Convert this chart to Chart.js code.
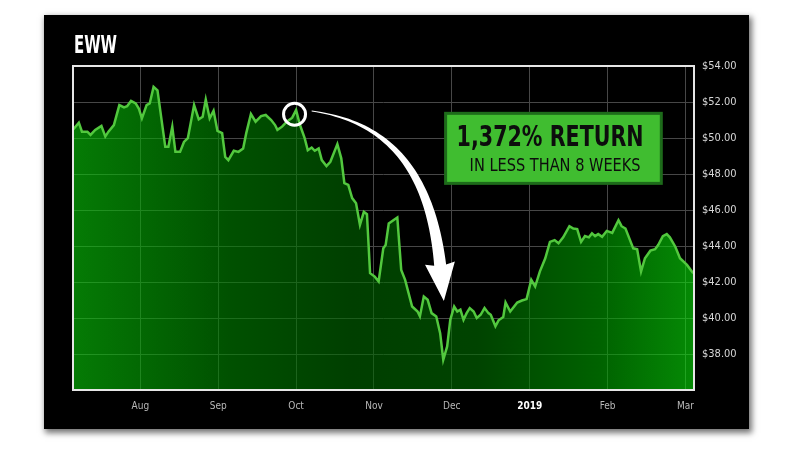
<!DOCTYPE html>
<html>
<head>
<meta charset="utf-8">
<script src="https://cdn.jsdelivr.net/npm/chart.js@4.4.1/dist/chart.umd.min.js"></script>
<style>
  html, body { margin: 0; padding: 0; background: #fff; }
  body { width: 800px; height: 450px; position: relative; overflow: hidden; }
  #panel {
    position: absolute; left: 44px; top: 15px; width: 705px; height: 414px;
    background: #000; box-shadow: 2px 3px 6px 1px rgba(0, 0, 0, 0.55);
  }
  canvas { display: block; }
</style>
</head>
<body>
<div id="panel"><canvas id="chart" width="705" height="414"></canvas></div>
<script>
// --- DATA ---
// position in months (0 = Aug 2018 ... 7 = Mar 2019)
const monthPos = [
  -0.86, -0.79, -0.75, -0.68, -0.64, -0.58, -0.50, -0.45, -0.41, -0.34,
  -0.27, -0.21, -0.17, -0.12, -0.06, -0.02, 0.02, 0.08, 0.12, 0.17,
  0.22, 0.32, 0.36, 0.41, 0.45, 0.51, 0.56, 0.61, 0.69, 0.75,
  0.80, 0.84, 0.89, 0.94, 0.99, 1.05, 1.09, 1.13, 1.20, 1.26,
  1.32, 1.36, 1.42, 1.48, 1.55, 1.61, 1.68, 1.73, 1.76, 1.82,
  1.88, 1.95, 2.00, 2.05, 2.11, 2.15, 2.20, 2.24, 2.29, 2.33,
  2.39, 2.44, 2.53, 2.58, 2.62, 2.67, 2.72, 2.77, 2.82, 2.87,
  2.91, 2.95, 3.01, 3.06, 3.12, 3.15, 3.19, 3.30, 3.35, 3.40,
  3.49, 3.56, 3.59, 3.64, 3.69, 3.74, 3.80, 3.85, 3.89, 3.94,
  3.98, 4.03, 4.07, 4.11, 4.15, 4.19, 4.23, 4.28, 4.32, 4.37,
  4.42, 4.47, 4.50, 4.56, 4.60, 4.66, 4.69, 4.75, 4.84, 4.90,
  4.96, 5.02, 5.07, 5.13, 5.20, 5.26, 5.32, 5.37, 5.43, 5.51,
  5.56, 5.61, 5.66, 5.71, 5.76, 5.80, 5.84, 5.88, 5.93, 5.99,
  6.06, 6.14, 6.18, 6.23, 6.33, 6.38, 6.43, 6.48, 6.55, 6.61,
  6.65, 6.71, 6.76, 6.80, 6.87, 6.93, 7.02, 7.10
];
const prices = [
  50.49, 50.85, 50.35, 50.35, 50.17, 50.45, 50.67, 50.08, 50.35, 50.72,
  51.83, 51.70, 51.77, 52.06, 51.92, 51.64, 51.09, 51.83, 51.92, 52.84,
  52.65, 49.51, 49.51, 50.63, 49.23, 49.23, 49.78, 49.99, 51.83, 51.04,
  51.18, 52.14, 51.09, 51.51, 50.39, 50.27, 48.95, 48.77, 49.29, 49.23,
  49.42, 50.27, 51.33, 50.91, 51.22, 51.28, 51.00, 50.72, 50.45, 50.63,
  50.91, 51.13, 51.55, 50.72, 49.99, 49.32, 49.47, 49.29, 49.42, 48.77,
  48.44, 48.68, 49.66, 48.87, 47.49, 47.39, 46.66, 46.38, 45.17, 45.90,
  45.77, 42.49, 42.30, 42.03, 43.87, 44.05, 45.25, 45.58, 42.67, 42.12,
  40.64, 40.36, 40.09, 41.19, 41.01, 40.27, 40.09, 39.16, 37.68, 38.42,
  39.90, 40.64, 40.36, 40.46, 39.90, 40.27, 40.55, 40.36, 40.00, 40.18,
  40.55, 40.27, 40.18, 39.54, 39.87, 40.05, 40.86, 40.36, 40.86, 40.97,
  41.05, 42.12, 41.75, 42.58, 43.32, 44.23, 44.33, 44.15, 44.48, 45.10,
  44.97, 44.94, 44.23, 44.55, 44.48, 44.70, 44.55, 44.66, 44.51, 44.84,
  44.73, 45.43, 45.10, 44.97, 43.87, 43.82, 42.58, 43.32, 43.74, 43.82,
  44.05, 44.55, 44.66, 44.48, 43.96, 43.32, 42.95, 42.49
];
const monthTicks = [0, 1, 2, 3, 4, 5, 6, 7];
const monthLabels = ['Aug', 'Sep', 'Oct', 'Nov', 'Dec', '2019', 'Feb', 'Mar'];
const priceTicks = [38, 40, 42, 44, 46, 48, 50, 52, 54];

const FONT = "'Liberation Sans Narrow', 'Arial Narrow', 'DejaVu Sans Condensed', sans-serif";

// text squeezed to a given width (the original uses a very condensed face)
function fitText(ctx, text, x, y, width) {
    const w = ctx.measureText(text).width;
    ctx.save();
    ctx.translate(x, y);
    ctx.scale(width / w, 1);
    ctx.fillText(text, 0, 0);
    ctx.restore();
}

const overlay = {
    id: 'overlay',
    afterDraw(chart) {
        const ctx = chart.ctx;
        const area = chart.chartArea;
        const xs = chart.scales.x, ys = chart.scales.y;
        const pt = (m, v) => ({ x: xs.getPixelForValue(m), y: ys.getPixelForValue(v) });

        // plot frame
        ctx.save();
        ctx.strokeStyle = '#e6e6e6';
        ctx.lineWidth = 2;
        ctx.strokeRect(area.left, area.top, area.right - area.left, area.bottom - area.top);

        // title
        ctx.fillStyle = '#fff';
        ctx.font = 'bold 24px ' + FONT;
        ctx.textBaseline = 'alphabetic';
        fitText(ctx, 'EWW', area.left + 1, area.top - 13, 43);

        // circle on the October high
        const c = pt(1.98, 51.32);
        ctx.beginPath();
        ctx.arc(c.x, c.y, 11, 0, Math.PI * 2);
        ctx.strokeStyle = '#fff';
        ctx.lineWidth = 3;
        ctx.stroke();

        // curved tapering arrow down to the December low
        const p0 = pt(2.20, 51.5), p1 = pt(3.23, 50.89), p2 = pt(3.73, 47.94), p3 = pt(3.85, 42.94);
        const N = 48;
        const left = [], right = [];
        for (let i = 0; i <= N; i++) {
            const t = i / N, u = 1 - t;
            const x = u*u*u*p0.x + 3*u*u*t*p1.x + 3*u*t*t*p2.x + t*t*t*p3.x;
            const y = u*u*u*p0.y + 3*u*u*t*p1.y + 3*u*t*t*p2.y + t*t*t*p3.y;
            const dx = 3*u*u*(p1.x - p0.x) + 6*u*t*(p2.x - p1.x) + 3*t*t*(p3.x - p2.x);
            const dy = 3*u*u*(p1.y - p0.y) + 6*u*t*(p2.y - p1.y) + 3*t*t*(p3.y - p2.y);
            const len = Math.hypot(dx, dy);
            const nx = -dy / len, ny = dx / len;
            const hw = (0.8 + 11.2 * Math.pow(t, 1.1)) / 2;
            left.push([x + nx*hw, y + ny*hw]);
            right.push([x - nx*hw, y - ny*hw]);
        }
        const dl = Math.hypot(p3.x - p2.x, p3.y - p2.y);
        const dirx = (p3.x - p2.x) / dl, diry = (p3.y - p2.y) / dl;
        const px = -diry, py = dirx;
        ctx.beginPath();
        ctx.moveTo(left[0][0], left[0][1]);
        left.forEach(p => ctx.lineTo(p[0], p[1]));
        ctx.lineTo(p3.x + px*15 - dirx*2, p3.y + py*15 - diry*2);
        ctx.lineTo(p3.x + dirx*36, p3.y + diry*36);
        ctx.lineTo(p3.x - px*15 - dirx*2, p3.y - py*15 - diry*2);
        for (let i = right.length - 1; i >= 0; i--) ctx.lineTo(right[i][0], right[i][1]);
        ctx.closePath();
        ctx.fillStyle = '#fff';
        ctx.fill();

        // callout box
        const b0 = pt(3.92, 51.37), b1 = pt(6.69, 47.48);
        ctx.fillStyle = '#40bd30';
        ctx.fillRect(b0.x, b0.y, b1.x - b0.x, b1.y - b0.y);
        ctx.strokeStyle = '#1d6b1a';
        ctx.lineWidth = 3;
        ctx.strokeRect(b0.x, b0.y, b1.x - b0.x, b1.y - b0.y);
        ctx.fillStyle = '#0d0d0d';
        ctx.font = 'bold 29px ' + FONT;
        fitText(ctx, '1,372% RETURN', b0.x + 11, b0.y + 33, 187);
        ctx.font = '18px ' + FONT;
        fitText(ctx, 'IN LESS THAN 8 WEEKS', b0.x + 24, b0.y + 58, 171);
        ctx.restore();
    }
};

const chart = new Chart(document.getElementById('chart'), {
    type: 'line',
    data: {
        datasets: [{
            label: 'EWW',
            data: monthPos.map((m, i) => ({ x: m, y: prices[i] })),
            borderColor: '#52c83e',
            borderWidth: 2.5,
            pointRadius: 0,
            tension: 0,
            fill: 'start',
            backgroundColor: (context) => {
                const area = context.chart.chartArea;
                if (!area) return 'rgba(0,160,0,0.6)';
                const g = context.chart.ctx.createLinearGradient(area.left, 0, area.right, 0);
                g.addColorStop(0, 'rgba(8,205,8,0.6)');
                g.addColorStop(0.25, 'rgba(0,135,0,0.6)');
                g.addColorStop(0.45, 'rgba(0,105,0,0.6)');
                g.addColorStop(0.65, 'rgba(0,112,0,0.6)');
                g.addColorStop(0.85, 'rgba(0,165,0,0.6)');
                g.addColorStop(1, 'rgba(8,230,8,0.6)');
                return g;
            }
        }]
    },
    options: {
        responsive: false,
        animation: false,
        devicePixelRatio: 1,
        layout: { padding: { left: 29, top: 51, right: 10, bottom: 9 } },
        plugins: { legend: { display: false }, tooltip: { enabled: false } },
        scales: {
            x: {
                type: 'linear',
                min: -0.865,
                max: 7.11,
                afterBuildTicks: scale => { scale.ticks = monthTicks.map(v => ({ value: v })); },
                afterFit: scale => { scale.height = 30; },
                grid: { color: '#474747', lineWidth: 1, drawTicks: false },
                border: { display: false },
                ticks: {
                    padding: 10,
                    maxRotation: 0,
                    autoSkip: false,
                    callback: (value, index) => monthLabels[index],
                    color: ctx => monthLabels[ctx.index] === '2019' ? '#ffffff' : '#b8b8b8',
                    font: ctx => ({ family: FONT, size: 10, weight: monthLabels[ctx.index] === '2019' ? 'bold' : 'normal' })
                }
            },
            y: {
                position: 'right',
                min: 36,
                max: 54,
                afterBuildTicks: scale => { scale.ticks = priceTicks.map(v => ({ value: v })); },
                afterFit: scale => { scale.width = 45; },
                grid: { color: '#474747', lineWidth: 1, drawTicks: false },
                border: { display: false },
                ticks: {
                    padding: 8,
                    color: '#d6d6d6',
                    font: { family: FONT, size: 11 },
                    callback: value => '$' + value.toFixed(2)
                }
            }
        }
    },
    plugins: [overlay]
});
</script>
</body>
</html>
